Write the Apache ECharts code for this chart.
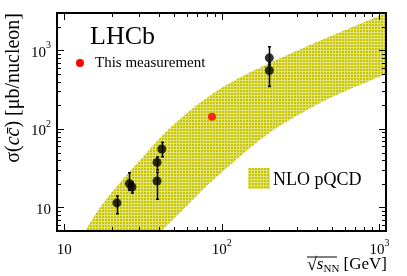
<!DOCTYPE html>
<html><head><meta charset="utf-8">
<script src="https://cdn.jsdelivr.net/npm/echarts@6/dist/echarts.min.js"></script>
<style>html,body{margin:0;padding:0;background:#fff}#c{width:407px;height:276px}</style>
</head><body><div id="c"></div>
<script>
// ---- data ----
const xMajorTicks = [10, 100, 1000];
const yMajorTicks = [10, 100, 1000];
const xMinorTicks = [20,30,40,50,60,70,80,90,200,300,400,500,600,700,800,900];
const yMinorTicks = [6,7,8,9,20,30,40,50,60,70,80,90,200,300,400,500,600,700,800,900,2000,3000];

// NLO pQCD band edges (sqrt(s) in GeV, sigma in ub/nucleon)
const bandUpperX = [13.4, 16.9, 22.5, 30.3, 45.5, 75.9, 130, 312, 1100];
const bandUpperY = [4.8, 10.0, 20.5, 40, 97, 230, 451, 1030, 3000];
const bandLowerX = [40.5, 60, 87.7, 174, 269, 505, 1100];
const bandLowerY = [4.8, 10.5, 22.2, 72, 130, 257, 500];

// previous measurements
const dataEnergy  = [21.6, 25.9, 26.9, 38.8, 38.8, 41.6, 200, 200];
const dataSigma   = [11.4, 20.1, 18.2, 37.4, 21.7, 55.5, 805, 555];
const dataErrLow  = [8.3, 16.5, 15.2, 30, 12.7, 44.2, 650, 348];
const dataErrHigh = [14.0, 27.6, 21.0, 44, 28, 67.5, 1114, 700];

// this measurement
const lhcbEnergy = [86.6];
const lhcbSigma  = [143];

const X_MIN = 9, X_MAX = 1100, Y_MIN = 5, Y_MAX = 3000;

// ---- style helpers ----
const pat = document.createElement('canvas'); pat.width = 3; pat.height = 3;
const pg = pat.getContext('2d');
pg.fillStyle = '#c8c600'; pg.fillRect(0,0,3,3);
pg.fillStyle = '#e2e27a'; pg.fillRect(2,0,1,3); pg.fillRect(0,2,3,1);
const bandFill = {image: pat, repeat: 'repeat'};

const SERIF = '"Liberation Serif", "DejaVu Serif", serif';

function powLabel(v){
  const l = Math.log10(v), e = Math.round(l);
  if (Math.abs(l - e) > 1e-6) return '';
  if (e === 1) return '{b|10}';
  return '{b|10}{s|' + e + '}';
}
const labelRich = {
  b: {fontFamily: SERIF, fontSize: 15, color: '#000', lineHeight: 20, verticalAlign: 'bottom'},
  s: {fontFamily: SERIF, fontSize: 10, color: '#000', lineHeight: 12, verticalAlign: 'top'}
};

// smooth a pixel-space polyline (Catmull-Rom) for drawing only
function smoothPx(p){
  const out = [];
  for (let i = 0; i < p.length - 1; i++){
    const p0 = p[Math.max(i-1,0)], p1 = p[i], p2 = p[i+1], p3 = p[Math.min(i+2,p.length-1)];
    for (let k = 0; k < 12; k++){
      const t = k/12, t2 = t*t, t3 = t2*t;
      out.push([
        0.5*((2*p1[0]) + (-p0[0]+p2[0])*t + (2*p0[0]-5*p1[0]+4*p2[0]-p3[0])*t2 + (-p0[0]+3*p1[0]-3*p2[0]+p3[0])*t3),
        0.5*((2*p1[1]) + (-p0[1]+p2[1])*t + (2*p0[1]-5*p1[1]+4*p2[1]-p3[1])*t2 + (-p0[1]+3*p1[1]-3*p2[1]+p3[1])*t3)
      ]);
    }
  }
  out.push(p[p.length-1]);
  return out;
}

const errData = dataEnergy.map((x,i)=>[x, dataErrLow[i], dataErrHigh[i]]);

const chart = echarts.init(document.getElementById('c'), null, {renderer: 'canvas'});
chart.setOption({
  animation: false,
  backgroundColor: '#fff',
  grid: {left: 57, right: 21, top: 13, bottom: 45, show: false},
  xAxis: {
    type: 'log', logBase: 10, min: X_MIN, max: X_MAX,
    axisLine: {show: false}, axisTick: {show: false}, splitLine: {show: false},
    axisLabel: {formatter: powLabel, rich: labelRich, margin: 7, showMinLabel: false, showMaxLabel: false}
  },
  yAxis: {
    type: 'log', logBase: 10, min: Y_MIN, max: Y_MAX,
    axisLine: {show: false}, axisTick: {show: false}, splitLine: {show: false},
    axisLabel: {formatter: powLabel, rich: labelRich, margin: 6, showMinLabel: false, showMaxLabel: false}
  },
  series: [
    {
      type: 'custom', z: 1, clip: true, silent: true,
      data: [[bandUpperX[0], bandUpperY[1]]],
      renderItem: function(params, api){
        const up = smoothPx(bandUpperX.map((x,i)=>api.coord([x, bandUpperY[i]])));
        const lo = smoothPx(bandLowerX.map((x,i)=>api.coord([x, bandLowerY[i]])));
        const pts = up.concat(lo.reverse());
        return {type: 'polygon', shape: {points: pts}, style: {fill: bandFill, stroke: null}};
      }
    },
    {
      type: 'custom', z: 5, clip: false, silent: true,
      data: [[10, 10]],
      renderItem: function(params, api){
        const cs = params.coordSys;
        const x0 = cs.x, y0 = cs.y, x1 = cs.x + cs.width, y1 = cs.y + cs.height;
        const ch = [];
        const ln = (a,b,c,d) => ch.push({type:'line', shape:{x1:a,y1:b,x2:c,y2:d}, style:{stroke:'#000', lineWidth:1}});
        const xt = (v, len) => { const px = Math.round(api.coord([v, 10])[0]) + 0.5; ln(px, y1, px, y1 - len); ln(px, y0, px, y0 + len); };
        const yt = (v, len) => { const py = Math.round(api.coord([10, v])[1]) + 0.5; ln(x0, py, x0 + len, py); ln(x1, py, x1 - len, py); };
        xMajorTicks.forEach(v => xt(v, 7)); xMinorTicks.forEach(v => xt(v, 4));
        yMajorTicks.forEach(v => yt(v, 7)); yMinorTicks.forEach(v => yt(v, 4));
        return {type: 'group', children: ch};
      }
    },
    {
      type: 'custom', z: 6, clip: true, silent: true,
      data: errData, encode: {x: 0, y: [1, 2]},
      renderItem: function(params, api){
        const lo = api.coord([api.value(0), api.value(1)]);
        const hi = api.coord([api.value(0), api.value(2)]);
        const x = Math.round(lo[0]) + 0.5;
        return {type: 'group', children: [
          {type:'line', shape:{x1:x, y1:lo[1], x2:x, y2:hi[1]}, style:{stroke:'#000', lineWidth:1.5}},
          {type:'line', shape:{x1:x-1.5, y1:lo[1], x2:x+1.5, y2:lo[1]}, style:{stroke:'#000', lineWidth:1.5}},
          {type:'line', shape:{x1:x-1.5, y1:hi[1], x2:x+1.5, y2:hi[1]}, style:{stroke:'#000', lineWidth:1.5}}
        ]};
      }
    },
    {
      type: 'scatter', z: 7, symbol: 'circle', symbolSize: 9,
      itemStyle: {color: '#000'},
      data: dataEnergy.map((x,i)=>[x, dataSigma[i]])
    },
    {
      type: 'scatter', z: 7, symbol: 'circle', symbolSize: 8,
      itemStyle: {color: '#ff0000'},
      data: lhcbEnergy.map((x,i)=>[x, lhcbSigma[i]])
    }
  ],
  graphic: [
    {type:'rect', z: 100, silent: true, shape:{x:57, y:13, width:329, height:218}, style:{fill:null, stroke:'#000', lineWidth:2}},
    {type:'text', z: 100, x: 90, y: 37, style:{text:'LHCb', font:'26px ' + SERIF, fill:'#000', align:'left', verticalAlign:'middle'}},
    {type:'circle', z: 100, shape:{cx:80, cy:63, r:4}, style:{fill:'#ff0000'}},
    {type:'text', z: 100, x: 95, y: 63, style:{text:'This measurement', font:'15px ' + SERIF, fill:'#000', align:'left', verticalAlign:'middle'}},
    {type:'rect', z: 100, shape:{x:248, y:168, width:22, height:21}, style:{fill: bandFill}},
    {type:'text', z: 100, x: 273, y: 180, style:{text:'NLO pQCD', font:'18px ' + SERIF, fill:'#000', align:'left', verticalAlign:'middle'}},
    {type:'text', z: 100, x: 387, y: 265, style:{
      text:'{r|√}{i|s}{sub|NN}{n| [GeV]}', align:'right', verticalAlign:'middle',
      rich:{
        r:{font:'18px ' + SERIF, fill:'#000'},
        i:{font:'italic 17px ' + SERIF, fill:'#000'},
        sub:{font:'11px ' + SERIF, fill:'#000', padding:[8,0,0,0]},
        n:{font:'17px ' + SERIF, fill:'#000'}
      }}},
    {type:'line', z: 100, shape:{x1:307, y1:257, x2:337, y2:257}, style:{stroke:'#000', lineWidth:1}},
    {type:'text', z: 100, x: 14, y: 13, rotation: Math.PI/2, style:{
      text:'σ({i|cc\u0304}) [μb/nucleon]', font:'20px ' + SERIF, fill:'#000', align:'right', verticalAlign:'middle',
      rich:{ i:{font:'italic 20px ' + SERIF, fill:'#000'} }}}
  ]
});
</script></body></html>
